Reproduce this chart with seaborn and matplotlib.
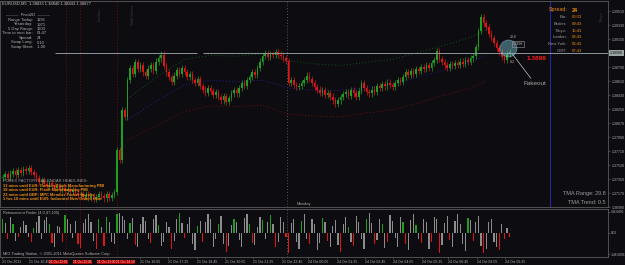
import matplotlib
matplotlib.use("Agg")
import matplotlib.pyplot as plt
import numpy as np
import pandas as pd
import seaborn as sns

# ---------------- data ----------------
first_open = 1.3736
closes = [
    1.3738, 1.3741, 1.3736, 1.3742, 1.3745, 1.3740, 1.3746, 1.3743, 1.3748, 1.3745,
    1.3749, 1.3744, 1.3740, 1.3736, 1.3731, 1.3734, 1.3729, 1.3726, 1.3730, 1.3727,
    1.3723, 1.3726, 1.3721, 1.3724, 1.3720, 1.3722, 1.3718, 1.3721, 1.3717, 1.3714,
    1.3716, 1.3712, 1.3715, 1.3711, 1.3713, 1.3709, 1.3712, 1.3716, 1.3713, 1.3710,
    1.3716, 1.3711, 1.3714, 1.3718, 1.3772, 1.3760, 1.3824, 1.3815, 1.3862, 1.3878,
    1.3870, 1.3885, 1.3876, 1.3881, 1.3872, 1.3868, 1.3877, 1.3881, 1.3874, 1.3886,
    1.3890, 1.3895, 1.3880, 1.3872, 1.3866, 1.3860, 1.3868, 1.3875, 1.3870, 1.3878,
    1.3873, 1.3866, 1.3870, 1.3862, 1.3858, 1.3864, 1.3855, 1.3850, 1.3846, 1.3852,
    1.3848, 1.3843, 1.3847, 1.3840, 1.3836, 1.3842, 1.3834, 1.3839, 1.3845, 1.3849,
    1.3845, 1.3852, 1.3858, 1.3855, 1.3862, 1.3866, 1.3872, 1.3869, 1.3878, 1.3886,
    1.3893, 1.3897, 1.3892, 1.3896, 1.3894, 1.3898, 1.3895, 1.3893, 1.3890, 1.3887,
    1.3858, 1.3862, 1.3856, 1.3853, 1.3855, 1.3858, 1.3862, 1.3868, 1.3864, 1.3858,
    1.3853, 1.3850, 1.3846, 1.3849, 1.3843, 1.3845, 1.3841, 1.3836, 1.3832, 1.3836,
    1.3840, 1.3844, 1.3847, 1.3842, 1.3849, 1.3845, 1.3840, 1.3848, 1.3858, 1.3852,
    1.3847, 1.3845, 1.3850, 1.3847, 1.3855, 1.3852, 1.3857, 1.3854, 1.3859, 1.3856,
    1.3853, 1.3858, 1.3862, 1.3860, 1.3866, 1.3872, 1.3869, 1.3874, 1.3870, 1.3876,
    1.3874, 1.3879, 1.3876, 1.3881, 1.3878, 1.3884, 1.3888, 1.3900, 1.3889, 1.3885,
    1.3881, 1.3878, 1.3883, 1.3880, 1.3884, 1.3882, 1.3886, 1.3883, 1.3888, 1.3885,
    1.3890, 1.3893, 1.3905, 1.3925, 1.3943, 1.3935, 1.3930, 1.3922, 1.3916, 1.3910,
    1.3903, 1.3898, 1.3892, 1.3888, 1.3896, 1.3898,
]

tma_bars = [48, 60, 70, 80, 90, 100, 110, 120, 130, 140, 150, 160, 170, 180, 186]
tma_upper = [1.3838, 1.3868, 1.3889, 1.3894, 1.3893, 1.3896, 1.3887, 1.3883, 1.3881, 1.3885,
             1.3889, 1.3898, 1.3907, 1.3917, 1.3927]
tma_mid = [1.3811, 1.3837, 1.3856, 1.3862, 1.3860, 1.3862, 1.3852, 1.3849, 1.3849, 1.3853,
           1.3856, 1.3866, 1.3875, 1.3885, 1.3894]
tma_lower = [1.3785, 1.3805, 1.3822, 1.3829, 1.3828, 1.3830, 1.3818, 1.3816, 1.3815, 1.3820,
             1.3824, 1.3833, 1.3843, 1.3852, 1.3861]

hist_values = [
    95, 70, -45, 110, 60, -55, -30, 40, 85, 55, -25, -60, 35, 75, 120, -40, 90, 115, 65, -70,
    -95, 50, 45, -65, 125, 95, 60, -35, 85, -80, -105, 70, 100, 135, 75, -55, -115, 95, 45, -90,
    110, 80, -60, -75, 130, 140, 120, 90, -40, 70, 105, -85, -100, 60, 115, 85, -45, -70, 100, 125,
    55, -90, -65, 80, 45, -110, -55, 95, 140, 70, -35, 60, 110, -80, -120, 50, 85, -60, 75, 130,
    100, -95, -45, 65, 120, -75, -130, -90, 55, 95, 80, -50, -100, 105, 135, 60, -70, -85, 45, 115,
    90, -40, 75, 125, 65, -95, -60, 110, 80, -30, -140, 70, 100, -65, -110, 85, 130, -45, -80, 95,
    60, -120, -70, 105, 75, -55, -100, 50, 90, -85, -135, 65, 115, 45, -60, -90, 120, 80, -40, -115,
    100, 140, 70, -75, -50, 95, 60, -105, -65, 125, 85, -35, -95, 110, 75, -80, -120, 90, 135, 55,
    -45, -70, 100, 80, -110, -60, 115, 95, -140, -85, 70, 120, -50, -100, 85, 130, 60, -75, -125, 105,
    90, -55, 75, 120, -90, -140, -110, 80, 100, -65, -95, -120, 60, -45, 35, -30,
]
hist_kind = ("gkrkgkrkkkkrgkkkkkgr" "kkkrgkkkkrrkkkkkrgkr" "gkkkgkkkkgkrkkkkkrkk"
             "gkkkkrkkgkrkkkkgkrkk" "kkkgkkrkkgkkkkkgrkkk" "gkkgkrkkkrrkkkkgkkrk"
             "kkkgkrkkkkrkkgkrkkkk" "gkkrkkgkrkkkkkgrkkkg" "krkkkrkkrkkkrkkkkkkg"
             "krkkkrkkkkkrkrkr")

price_ticks = [1.36990, 1.37170, 1.37350, 1.37530, 1.37710, 1.37890, 1.38070, 1.38250,
               1.38430, 1.38610, 1.38790, 1.39150, 1.39330, 1.39510]
current_price = 1.3898
level_price = 1.3897
sub_ticks = [146.6896, 0.0, -146.6896]
sub_tick_labels = ["146.6896", "0.00", "-146.6896"]

time_tick_px = [2, 29, 140, 168, 197, 225, 253, 282, 308, 337, 365, 393, 422, 448, 477, 505]
time_tick_labels = ["21 Oct 2011", "21 Oct 10:45", "21 Oct 16:05", "21 Oct 17:25", "21 Oct 18:45",
                    "21 Oct 20:05", "21 Oct 21:25", "21 Oct 22:45", "24 Oct 00:05", "24 Oct 01:25",
                    "24 Oct 02:45", "24 Oct 04:05", "24 Oct 05:25", "24 Oct 06:45", "24 Oct 08:05",
                    "24 Oct 09:25"]
marker_labels = ["21 Oct 12:05", "21 Oct 12:45", "21 Oct 13:30", "21 Oct 14:10"]

info_labels = ["Range Today:", "Yesterday:", "5 Day Range:", "Time to next bar:", "Spread:",
               "Swap Long:", "Swap Short:"]
info_values = ["1195", "1971", "1303", "01:47", "24", "0.10", "-1.00"]
clock_labels = ["Bar:", "Broker:", "Tokyo:", "London:", "New York:", "GMT:"]
clock_values = ["00:03", "09:43", "16:43", "08:43", "03:43", "07:43"]
calendar_lines = ["13 mins until EUR: German Flash Manufacturing PMI",
                  "18 mins until EUR: Flash Manufacturing PMI",
                  "23 mins until GBP: MPC Member Tucker Speaks",
                  "1 hrs 18 mins until EUR: Industrial New Orders m/m"]
fake_bar, fake_price = 194.4, 1.3903

# ---------------- style ----------------
W, H = 625, 265
BG = "#0d0c11"
FRAME = "#5a5a5a"
GREEN = "#1f9e1f"
RED = "#e01515"
GRAYBAR = "#8c8c8c"
TXT = "#b0b0b0"
ORANGE = "#ee8e10"

sns.set_theme(style="dark", rc={"axes.facecolor": BG, "figure.facecolor": BG,
                                "axes.edgecolor": FRAME, "text.color": TXT,
                                "xtick.color": TXT, "ytick.color": TXT})
plt.rcParams["font.family"] = ["Liberation Sans", "DejaVu Sans"]

PX = 2.6


def xi(px):
    return px / PX - 1


def fx(px):
    return px / W


def fy(py):
    return 1 - py / H


XMAX = xi(608)

fig = plt.figure(figsize=(W / 100, H / 100), dpi=100)
ax = fig.add_axes([0, fy(207), fx(608), 206 / H])
axh = fig.add_axes([0, fy(257), fx(608), 48 / H])

# ---------------- candles ----------------
df = pd.DataFrame({"close": closes})
df["open"] = [first_open] + closes[:-1]
df["bar"] = np.arange(len(df))
df["top"] = df[["open", "close"]].max(axis=1)
df["bot"] = df[["open", "close"]].min(axis=1)
cols = np.where(df["close"] >= df["open"], GREEN, RED)
WICK = 0.0004
ax.vlines(df["bar"], df["bot"] - WICK, df["top"] + WICK, colors=cols, lw=0.5, zorder=3)
ax.bar(df["bar"], np.maximum(df["top"] - df["bot"], 0.00005), bottom=df["bot"], width=0.62,
       color=cols, linewidth=0, zorder=3)

# TMA bands (dim dotted)
tma = pd.DataFrame({"bar": tma_bars, "upper": tma_upper, "mid": tma_mid, "lower": tma_lower})
for col, c in (("upper", "#0f4418"), ("mid", "#1d1d72"), ("lower", "#561010")):
    sns.lineplot(data=tma, x="bar", y=col, ax=ax, color=c, lw=0.8,
                 linestyle=(0, (1, 1.8)), zorder=2)

# lines
ax.hlines(level_price, xi(55), xi(197), color="#8c979c", lw=0.7, zorder=4)
ax.hlines(level_price, xi(203), XMAX, color="#8c979c", lw=0.7, zorder=4)
for a in (ax, axh):
    for p in (66, 80, 117):
        a.axvline(xi(p), color="#700c0c", lw=0.7, ls=(0, (1, 2)), zorder=1)
    a.axvline(xi(287), color="#555555", lw=0.7, ls=(0, (1, 2)), zorder=1)
ax.axvline(xi(550), color="#2525a0", lw=0.8, zorder=1)

ax.scatter([fake_bar], [fake_price], s=150, color="#78c4d4", alpha=0.45,
           edgecolors="#b0e4ee", linewidths=0.5, zorder=5)
ax.annotate("Fakeout", xy=(fake_bar, fake_price), xycoords="data",
            xytext=(fx(523), fy(84)), textcoords="figure fraction",
            fontsize=4.6, color="#a8a8a8", ha="left", va="center",
            arrowprops=dict(arrowstyle="-", color="#a8a8a8", lw=0.6, shrinkA=0, shrinkB=5,
                            relpos=(0.45, 1.0)))

ax.set_xlim(-1, XMAX)
ax.set_ylim(1.36990, 1.39639)
ax.set_xlabel("")
ax.set_ylabel("")
ax.set_xticks([])
ax.yaxis.tick_right()
ax.set_yticks(price_ticks)
ax.set_yticklabels([f"{t:.5f}" for t in price_ticks])
ax.tick_params(axis="y", right=True, left=False, length=1.5, width=0.5, color=FRAME,
               labelsize=2.6, labelcolor=TXT, pad=1)

# ---------------- sub panel ----------------
kind_col = {"g": GREEN, "r": RED, "k": GRAYBAR}
hcols = [kind_col[k] for k in hist_kind]
axh.bar(np.arange(len(hist_values)), hist_values, width=0.5, color=hcols, linewidth=0)
axh.set_xlim(-1, XMAX)
axh.set_ylim(-167.6, 167.6)
axh.yaxis.tick_right()
axh.set_yticks(sub_ticks)
axh.set_yticklabels(sub_tick_labels)
axh.tick_params(axis="y", right=True, left=False, length=1.2, width=0.5, color=FRAME,
                labelsize=2.3, labelcolor=TXT, pad=0.8)
axh.set_xticks([xi(p) for p in time_tick_px])
axh.set_xticklabels(time_tick_labels)
axh.tick_params(axis="x", bottom=True, length=1.5, width=0.5, color=FRAME,
                labelsize=2.5, labelcolor=TXT, pad=0.8)
for lbl in axh.get_xticklabels():
    lbl.set_ha("left")

for a in (ax, axh):
    for s in a.spines.values():
        s.set_visible(True)
        s.set_color(FRAME)
        s.set_linewidth(0.6)

# ---------------- overlay texts ----------------
def t(x, y, s, **kw):
    kw.setdefault("fontsize", 3.0)
    kw.setdefault("color", TXT)
    kw.setdefault("va", "center")
    fig.text(fx(x), fy(y), s, **kw)


t(2, 4, "EURUSD,M5  1.38833 1.38840 1.38843 1.38877", color="#c8c8c8")
t(28, 15, "———  Pivot2D  ———", ha="center")
for k, (lab, val) in enumerate(zip(info_labels, info_values)):
    t(33, 20 + 4.5 * k, lab, ha="right")
    t(37, 20 + 4.5 * k, val)

t(568, 10, "Spread:", ha="right", fontsize=3.9, color=ORANGE)
t(572, 10, "24", fontsize=3.9, color=ORANGE, fontweight="bold")
for k, (lab, val) in enumerate(zip(clock_labels, clock_values)):
    t(567, 17 + 6.8 * k, lab, ha="right", color="#9a9a9a")
    t(572, 17 + 6.8 * k, val, color=ORANGE)

t(3, 181, "FOREX FACTORY CALENDAR HEADLINES:", color="#9a9a9a")
for k, line in enumerate(calendar_lines):
    t(3, 186 + 4.5 * k, line, color=ORANGE, fontweight="bold", fontsize=2.9)

t(297, 204, "Monday", color="#a0a0a0")
t(606, 193, "TMA Range: 29.8", ha="right", fontsize=4.0, color="#9a9a9a")
t(606, 203, "TMA Trend: 0.5", ha="right", fontsize=4.0, color="#9a9a9a")
t(3, 213, "Retracement Finder (4,0,47,100)", fontsize=2.8)
t(3, 254, "MIG Trading Station, © 2001-2011 MetaQuotes Software Corp.", fontsize=2.8)

t(527, 58, "1.3898", fontsize=4.6, color="#ff1c1c", fontweight="bold")
t(510, 37, "23.6", fontsize=2.6)
t(513, 44, "1.3898", fontsize=2.4, bbox=dict(boxstyle="square,pad=0.2", fc="none", ec="#9a9a9a", lw=0.4))
t(510, 62, "8.2", fontsize=2.6)
t(610, 53, "1.38980", fontsize=2.6, color="#101010",
  bbox=dict(boxstyle="square,pad=0.2", fc="#9aa4a4", ec="none"))

t(100, 14, "London", rotation=90, ha="center", color="#3c3c3c")
t(133, 15, "Wall Street", rotation=90, ha="center", color="#3c3c3c")
t(602, 17, "Tokyo", rotation=90, ha="center", color="#3c3c3c")

for px, lab in zip([49, 73, 97, 116], marker_labels):
    t(px, 262, lab, fontsize=2.3, color="#ffd6d6",
      bbox=dict(boxstyle="square,pad=0.15", fc="#b00000", ec="none"))

fig.savefig("out.png", dpi=100, facecolor=BG)
